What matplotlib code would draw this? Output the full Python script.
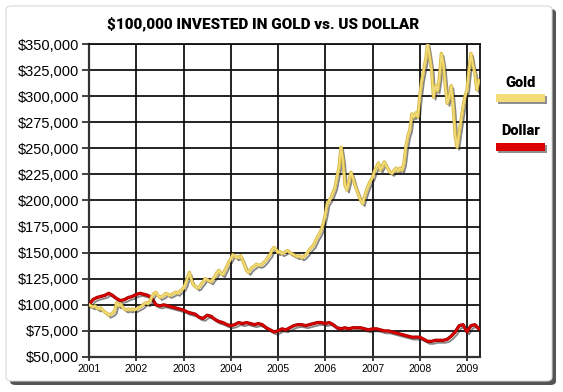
"""$100,000 invested in gold vs. the US dollar, 2001-2009."""

import matplotlib.pyplot as plt
import matplotlib.patheffects as pe
from matplotlib.patches import FancyBboxPatch, Rectangle
from matplotlib.ticker import FuncFormatter, MultipleLocator
import numpy as np

# gold, semi-monthly values in $ thousands, starting Jan 2001
gold_2001 = [100, 99, 98, 99, 97, 96, 97, 95, 93, 92, 90, 91, 92, 94, 102, 99, 101, 98, 96, 95, 96, 95, 96, 95]
gold_2002 = [96, 97, 98, 99, 101, 102, 101, 104, 108, 111, 112, 109, 107, 108, 109, 111, 110, 109, 110, 111, 112, 111, 113, 114]
gold_2003 = [116, 120, 126, 131, 124, 119, 118, 116, 117, 120, 122, 125, 124, 123, 122, 125, 127, 131, 133, 130, 129, 133, 137, 141]
gold_2004 = [144, 148, 147, 145, 146, 147, 143, 138, 133, 131, 134, 136, 137, 139, 138, 138, 139, 141, 143, 146, 148, 153, 155, 153]
gold_2005 = [150, 151, 149, 150, 151, 152, 150, 149, 148, 147, 146, 147, 145, 146, 148, 150, 153, 155, 157, 161, 165, 168, 172, 178]
gold_2006 = [186, 197, 200, 203, 208, 213, 223, 232, 251, 238, 215, 210, 218, 227, 222, 215, 210, 205, 200, 197, 204, 210, 215, 219]
gold_2007 = [222, 228, 232, 236, 229, 233, 237, 233, 230, 227, 226, 229, 231, 228, 231, 229, 236, 252, 262, 268, 283, 280, 284, 280]
gold_2008 = [300, 315, 325, 335, 350, 338, 325, 299, 310, 305, 318, 341, 330, 310, 293, 300, 310, 290, 262, 251, 265, 277, 290, 300]
gold_2009 = [306, 325, 341, 330, 322, 306, 315]

# dollar, monthly values in $ thousands, starting Jan 2001
dollar_values = [
    100, 105, 107, 108, 109, 111, 109, 106, 104, 105, 107, 108,
    110, 111, 110, 109, 106, 100, 99, 100, 99, 98, 97, 96,
    95, 93, 92, 91, 88, 87, 90, 89, 86, 84, 83, 81,
    80, 81, 83, 82, 83, 82, 81, 82, 81, 78, 76, 74,
    75, 77, 76, 78, 80, 81, 81, 80, 81, 82, 83, 83,
    82, 83, 81, 78, 77, 78, 77, 78, 78, 78, 77, 76,
    77, 77, 76, 75, 75, 74, 73, 72, 71, 70, 69, 69,
    69, 67, 65, 65, 66, 66, 66, 67, 70, 74, 80, 81,
    74, 80, 81, 77,
]

year_labels = ["2001", "2002", "2003", "2004", "2005", "2006", "2007", "2008", "2009"]

gold_values = (gold_2001 + gold_2002 + gold_2003 + gold_2004 + gold_2005
               + gold_2006 + gold_2007 + gold_2008 + gold_2009)
gold = np.array(gold_values) * 1000
gold_t = 2001 + np.arange(len(gold)) / 24
dollar = np.array(dollar_values) * 1000
dollar_t = 2001 + np.arange(len(dollar)) / 12

GOLD_COLOR = "#f2dc78"
GOLD_EDGE = "#d4b440"
DOLLAR_COLOR = "#dd0000"
DOLLAR_EDGE = "#a00000"
HEADLINE_FONT = ["Roboto", "DejaVu Sans"]

fig = plt.figure(figsize=(5.63, 3.92), dpi=100)

# outer panel with a drop shadow
w, h = 563, 392
shadow = FancyBboxPatch((10 / w, 1 - 385 / h), 546 / w, 376 / h,
                        boxstyle="round,pad=0,rounding_size=0.01",
                        transform=fig.transFigure, facecolor="#555555",
                        edgecolor="none", zorder=0)
panel = FancyBboxPatch((6 / w, 1 - 381 / h), 546 / w, 375 / h,
                       boxstyle="round,pad=0,rounding_size=0.01",
                       transform=fig.transFigure, facecolor="white",
                       edgecolor="#d8d8d8", linewidth=0.8, zorder=1)
fig.patches.extend([shadow, panel])

ax = fig.add_axes([89 / w, 1 - 357 / h, 391 / w, 313 / h])
ax.set_zorder(2)


def shadowed(edge):
    # drop shadow, darker rim, then the line itself
    return [pe.SimpleLineShadow(offset=(1.5, -1.8), shadow_color="#222222", alpha=0.55),
            pe.Stroke(linewidth=2.4, foreground=edge), pe.Normal()]


ax.plot(dollar_t, dollar, color=DOLLAR_COLOR, lw=1.3, path_effects=shadowed(DOLLAR_EDGE), zorder=4)
ax.plot(gold_t, gold, color=GOLD_COLOR, lw=1.3, path_effects=shadowed(GOLD_EDGE), zorder=5)

ax.set_xlim(2001, 2009.275)
ax.set_ylim(50000, 350000)
ax.yaxis.set_major_locator(MultipleLocator(25000))
ax.set_xticks(range(2001, 2010))
ax.set_xticklabels(year_labels)
ax.yaxis.set_major_formatter(FuncFormatter(lambda v, _: f"${v:,.0f}"))
ax.grid(True, color="#111111", linewidth=1.3, zorder=1)
ax.set_axisbelow(True)
for side in ["top", "right"]:
    ax.spines[side].set_color("#111111")
    ax.spines[side].set_linewidth(1.3)
for side in ["left", "bottom"]:
    ax.spines[side].set_color("#333333")
    ax.spines[side].set_linewidth(1.6)
ax.tick_params(axis="y", length=5, width=1.3, color="#333333", pad=2,
               labelsize=10.5, labelfontfamily="Liberation Sans")
ax.tick_params(axis="x", length=3, width=1.3, color="#333333", pad=2,
               labelsize=7.5, labelfontfamily="Liberation Sans")

fig.text(263 / w, 1 - 24 / h, "$100,000 INVESTED IN GOLD vs. US DOLLAR",
         ha="center", va="center", fontsize=11, fontweight="heavy",
         family=HEADLINE_FONT, zorder=3)

# legend drawn by hand: label above a shadowed swatch
legend_items = [("Gold", GOLD_COLOR, 83, 94), ("Dollar", DOLLAR_COLOR, 131, 143)]
for label, color, text_y, bar_y in legend_items:
    fig.text(521 / w, 1 - text_y / h, label, ha="center", va="center",
             fontsize=10.5, fontweight="heavy", family=HEADLINE_FONT, zorder=3)
    fig.patches.append(Rectangle((498 / w, 1 - (bar_y + 10) / h), 49 / w, 8 / h,
                                 transform=fig.transFigure, facecolor="#444444",
                                 edgecolor="none", alpha=0.6, zorder=2))
    fig.patches.append(Rectangle((496 / w, 1 - (bar_y + 8) / h), 49 / w, 8 / h,
                                 transform=fig.transFigure, facecolor=color,
                                 edgecolor="none", zorder=3))

fig.savefig("out.png", dpi=100)
plt.close(fig)
